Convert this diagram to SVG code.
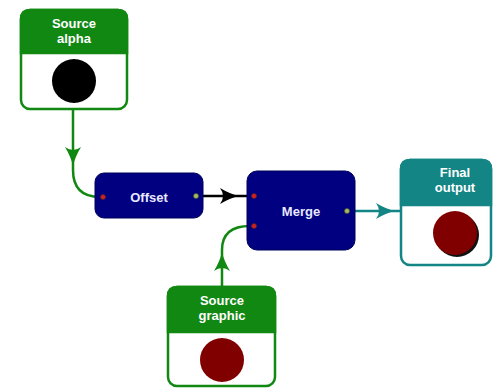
<svg xmlns="http://www.w3.org/2000/svg" width="494" height="391" viewBox="0 0 494 391">
<defs>
<style>
.lbl{font-family:"Liberation Sans",Arial,sans-serif;font-weight:bold;font-size:13px;fill:#fff;text-anchor:middle}
.prim{font-family:"Liberation Sans",Arial,sans-serif;font-weight:bold;font-size:13px;fill:#e8e8ff;text-anchor:middle}
.filt{fill:#000080;stroke:#00005a;stroke-width:1}
.gbox{fill:#fff;stroke:#118811;stroke-width:2.5}
.tbox{fill:#fff;stroke:#138585;stroke-width:2.5}
.con{fill:none;stroke-width:2.5}
.pin{fill:#cc2222;stroke:#552222;stroke-width:0.6}
.pout{fill:#a8b860;stroke:#445522;stroke-width:0.6}
</style>
<path id="ah" d="M0,0 Q-9,2 -19,8 Q-13,0 -19,-8 Q-9,-2 0,0 Z"/>
</defs>
<g id="connectors">
<path class="con" stroke="#118811" d="M73,109 V170 Q73,197 100,197 H103"/>
<use href="#ah" fill="#118811" transform="translate(73,166) rotate(90)"/>
<path class="con" stroke="#000" d="M197,196 H254"/>
<use href="#ah" fill="#000" transform="translate(239,196)"/>
<path class="con" stroke="#138585" d="M347,211 H401"/>
<use href="#ah" fill="#138585" transform="translate(395,211)"/>
<path class="con" stroke="#118811" d="M222,287 V250 Q222,226 250,226 H254"/>
<use href="#ah" fill="#118811" transform="translate(222,252) rotate(-90)"/>
</g>
<g id="source-alpha">
<rect class="gbox" x="21" y="10" width="106" height="99" rx="9"/>
<path d="M21,53 V19 Q21,10 30,10 H118 Q127,10 127,19 V53 Z" fill="#118811" stroke="#118811" stroke-width="2.5"/>
<text class="lbl" x="74" y="28">Source</text>
<text class="lbl" x="74" y="43">alpha</text>
<circle cx="74" cy="81" r="22" fill="#000"/>
</g>
<g id="offset">
<rect class="filt" x="95" y="173" width="108" height="45" rx="9"/>
<text class="prim" x="149" y="202">Offset</text>
<circle class="pin" cx="103" cy="197" r="2.5"/>
<circle class="pout" cx="196" cy="196" r="2.5"/>
</g>
<g id="merge">
<rect class="filt" x="247" y="171" width="108" height="79" rx="10"/>
<text class="prim" x="301" y="216">Merge</text>
<circle class="pin" cx="254" cy="196" r="2.5"/>
<circle class="pin" cx="254" cy="226" r="2.5"/>
<circle class="pout" cx="347" cy="211" r="2.5"/>
</g>
<g id="final-output">
<rect class="tbox" x="401" y="160" width="90" height="105" rx="9"/>
<path d="M401,205 V169 Q401,160 410,160 H482 Q491,160 491,169 V205 Z" fill="#138585" stroke="#138585" stroke-width="2.5"/>
<text class="lbl" x="455" y="177">Final</text>
<text class="lbl" x="455" y="192">output</text>
<circle cx="457" cy="235" r="22" fill="#111"/>
<circle cx="455" cy="233" r="22" fill="#800000"/>
</g>
<g id="source-graphic">
<rect class="gbox" x="168" y="287" width="107" height="99" rx="9"/>
<path d="M168,332 V296 Q168,287 177,287 H266 Q275,287 275,296 V332 Z" fill="#118811" stroke="#118811" stroke-width="2.5"/>
<text class="lbl" x="222" y="305">Source</text>
<text class="lbl" x="222" y="320">graphic</text>
<circle cx="222" cy="360" r="22" fill="#800000"/>
</g>
</svg>
